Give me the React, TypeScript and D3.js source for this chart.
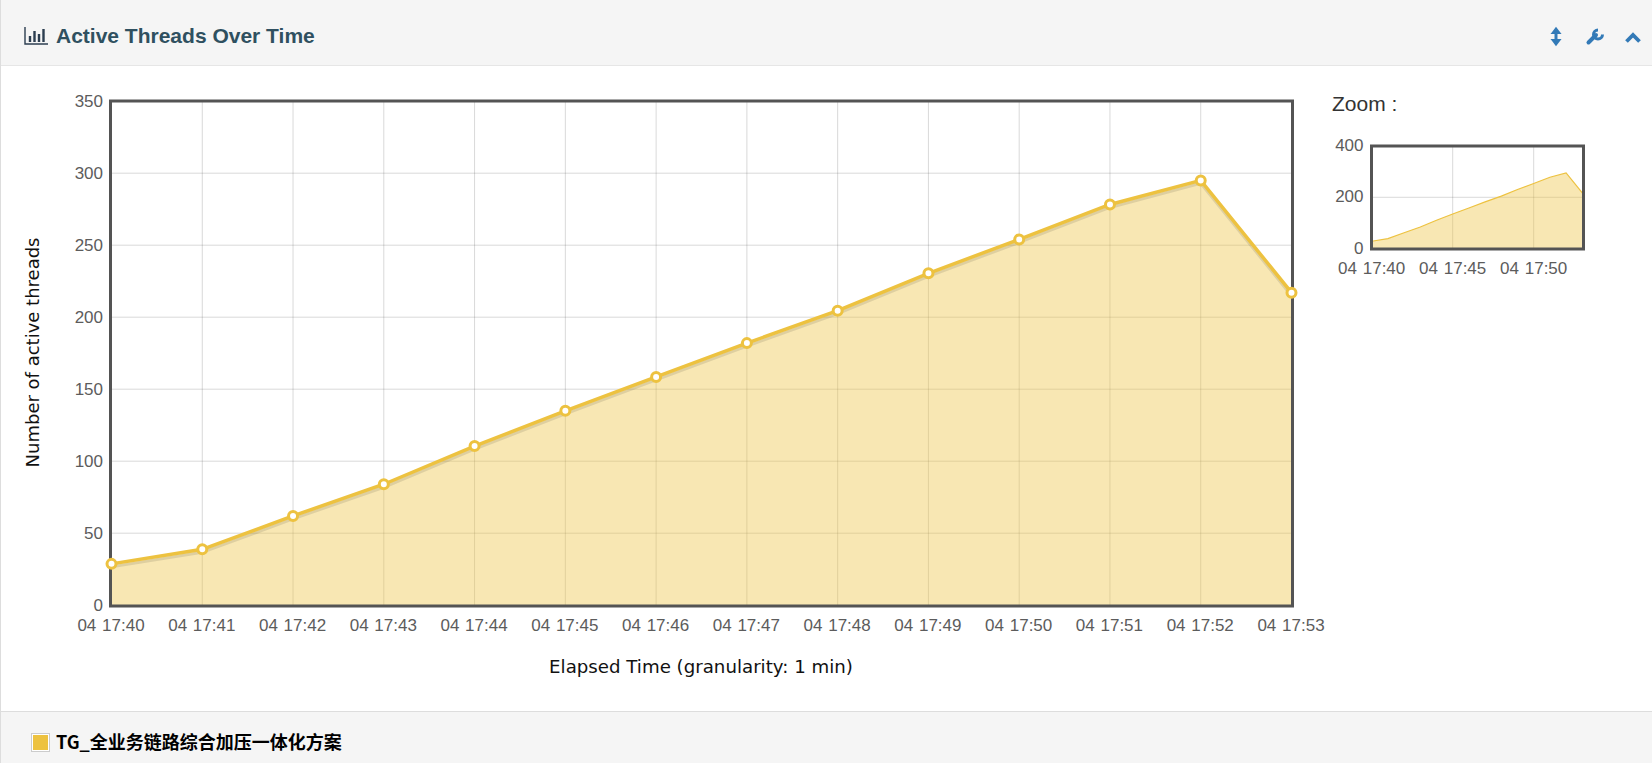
import React from "react";
import * as d3 from "d3";

const timeLabels = ["04 17:40", "04 17:41", "04 17:42", "04 17:43", "04 17:44", "04 17:45", "04 17:46", "04 17:47", "04 17:48", "04 17:49", "04 17:50", "04 17:51", "04 17:52", "04 17:53"];
const threads = [28.7, 38.8, 62, 84, 110.5, 135, 158.5, 182, 204.5, 230.5, 254, 278.3, 295, 217];
const yTicks = [0, 50, 100, 150, 200, 250, 300, 350];
const zoomYTicks = [0, 200, 400];
const zoomXTicks = [0, 5, 10];
const seriesName = "TG_全业务链路综合加压一体化方案";

const COLOR = "#edc240";
const BORDER = "#545454";
const TICK = "#5c5c5c";
const GRID = "rgba(84,84,84,0.22)";
const SANS = "'Liberation Sans', Arial, sans-serif";
const VERDANA = "'DejaVu Sans', sans-serif";

const App = () => {
  const idx = timeLabels.map((_, i) => i);
  const x = d3.scaleLinear().domain([0, 13]).range([111.5, 1291.5]);
  const y = d3.scaleLinear().domain([0, 350]).range([605.2, 101.2]);
  const zx = d3.scaleLinear().domain([0, 13]).range([1371.7, 1582.3]);
  const zy = d3.scaleLinear().domain([0, 400]).range([248.6, 146]);

  const line = d3.line<number>().x((i) => x(i)).y((i) => y(threads[i]));
  const shadow = d3.line<number>().x((i) => x(i)).y((i) => y(threads[i]) + 3);
  const area = d3.area<number>().x((i) => x(i)).y0(y(0)).y1((i) => y(threads[i]));
  const zLine = d3.line<number>().x((i) => zx(i)).y((i) => zy(threads[i]));
  const zArea = d3.area<number>().x((i) => zx(i)).y0(zy(0)).y1((i) => zy(threads[i]));

  return (
    <svg width={1652} height={763} style={{ position: "absolute", left: 0, top: 0 }} fontFamily={SANS}>
      <defs>
        <clipPath id="plot-clip">
          <rect x={x(0)} y={y(350)} width={x(13) - x(0)} height={y(0) - y(350)} />
        </clipPath>
      </defs>
      <rect width={1652} height={763} fill="#fff" />
      <rect x={0} y={0} width={1652} height={65} fill="#f5f5f5" />
      <line x1={0} x2={1652} y1={65.5} y2={65.5} stroke="#e6e6e6" />
      <rect x={0} y={711} width={1652} height={52} fill="#f5f5f5" />
      <line x1={0} x2={1652} y1={711.5} y2={711.5} stroke="#ddd" />
      <line x1={0.5} x2={0.5} y1={0} y2={763} stroke="#ddd" />

      {/* header */}
      <g stroke="#2c3e50" fill="none">
        <path d="M25 27V44H48" strokeWidth={1.4} />
        <path d="M30 42V36M34.5 42V31M39 42V34M43.5 42V29" strokeWidth={2.4} />
      </g>
      <text x={56} y={42.5} fontSize={21} fontWeight={700} fill="#2f5060">Active Threads Over Time</text>
      <g stroke="#337ab7" fill="none" strokeWidth={3}>
        <path d="M1556 31V42" />
        <path d="M1552.5 33L1556 28.5L1559.5 33ZM1552.5 40L1556 44.5L1559.5 40Z" strokeWidth={2} fill="#337ab7" />
        <path d="M1588.5 42.5L1596 35" strokeWidth={4} strokeLinecap="round" />
        <path d="M1598 30A4.5 4.5 0 1 0 1602.5 34.5" strokeWidth={3} />
        <path d="M1626.5 41.5L1633 35L1639.5 41.5" strokeWidth={3.8} />
      </g>

      {/* main plot */}
      <g stroke={GRID}>
        {yTicks.slice(1, -1).map((t) => (
          <line key={t} x1={x(0)} x2={x(13)} y1={y(t)} y2={y(t)} />
        ))}
        {idx.slice(1, -1).map((i) => (
          <line key={i} x1={x(i)} x2={x(i)} y1={y(350)} y2={y(0)} />
        ))}
      </g>
      <path d={area(idx) ?? ""} fill={COLOR} fillOpacity={0.4} />
      <path d={shadow(idx) ?? ""} fill="none" stroke="#000" strokeOpacity={0.1} strokeWidth={3} clipPath="url(#plot-clip)" />
      <rect x={110.5} y={101} width={1182} height={505} fill="none" stroke={BORDER} strokeWidth={3} />
      <path d={line(idx) ?? ""} fill="none" stroke={COLOR} strokeWidth={3.5} />
      {idx.map((i) => (
        <circle key={i} cx={x(i)} cy={y(threads[i])} r={4.5} fill="#fff" stroke={COLOR} strokeWidth={3} />
      ))}

      <g fontSize={17} fill={TICK}>
        {yTicks.map((t) => (
          <text key={t} x={103} y={y(t) + 6} textAnchor="end">{t}</text>
        ))}
        {idx.map((i) => (
          <text key={i} x={x(i) - 0.5} y={631} textAnchor="middle" style={{ wordSpacing: 1 }}>{timeLabels[i]}</text>
        ))}
      </g>
      <text x={701} y={673} textAnchor="middle" fontFamily={VERDANA} fontSize={18.2} fill="#111">Elapsed Time (granularity: 1 min)</text>
      <text transform="translate(39,352.5) rotate(-90)" textAnchor="middle" fontFamily={VERDANA} fontSize={18} fill="#111">Number of active threads</text>

      {/* zoom overview */}
      <text x={1332} y={111} fontSize={21} fill="#333">Zoom :</text>
      <g stroke={GRID}>
        <line x1={zx(0)} x2={zx(13)} y1={zy(200)} y2={zy(200)} />
        {zoomXTicks.slice(1).map((i) => (
          <line key={i} x1={zx(i)} x2={zx(i)} y1={zy(400)} y2={zy(0)} />
        ))}
      </g>
      <path d={zArea(idx) ?? ""} fill={COLOR} fillOpacity={0.4} />
      <path d={zLine(idx) ?? ""} fill="none" stroke={COLOR} strokeWidth={1.2} />
      <rect x={1371.5} y={146} width={212} height={103} fill="none" stroke={BORDER} strokeWidth={3} />
      <g fontSize={17} fill={TICK}>
        {zoomYTicks.map((t) => (
          <text key={t} x={1363.5} y={zy(t) + 5} textAnchor="end">{t}</text>
        ))}
        {zoomXTicks.map((i) => (
          <text key={i} x={zx(i)} y={274} textAnchor="middle" style={{ wordSpacing: 1 }}>{timeLabels[i]}</text>
        ))}
      </g>

      {/* legend */}
      <rect x={31.5} y={733.5} width={18} height={18} fill="#fff" stroke="#ccc" />
      <rect x={33} y={735} width={15} height={15} fill={COLOR} />
      <text x={56} y={748.5} fontSize={18} fontWeight={700} fontFamily="'Noto Sans CJK SC', 'Noto Sans', sans-serif" fill="#000">{seriesName}</text>
    </svg>
  );
};

export default App;
